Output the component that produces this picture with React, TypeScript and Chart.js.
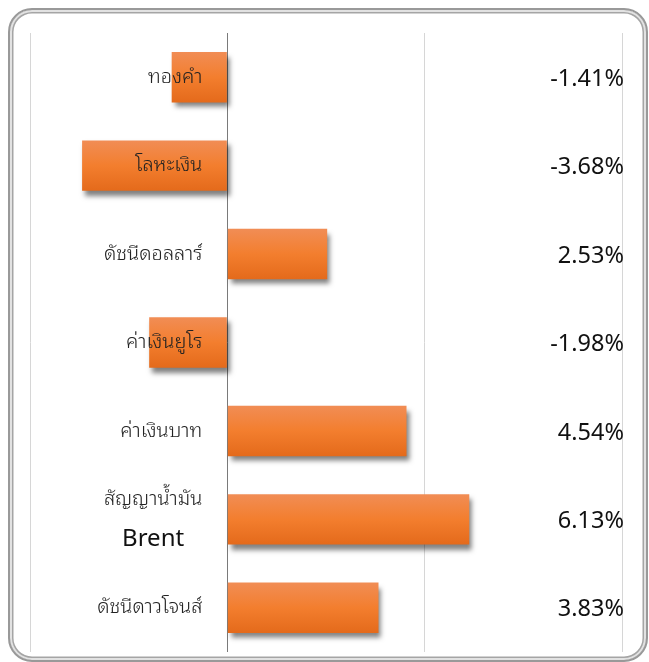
import React, { useEffect, useRef } from "react";
import { Chart, registerables } from "chart.js";

Chart.register(...registerables);

const categories: (string | string[])[] = [
  "ทองคำ",
  "โลหะเงิน",
  "ดัชนีดอลลาร์",
  "ค่าเงินยูโร",
  "ค่าเงินบาท",
  ["สัญญาน้ำมัน", "Brent"],
  "ดัชนีดาวโจนส์",
];
const values = [-1.41, -3.68, 2.53, -1.98, 4.54, 6.13, 3.83];
const valueLabels = ["-1.41%", "-3.68%", "2.53%", "-1.98%", "4.54%", "6.13%", "3.83%"];
const axisMin = -5;
const axisMax = 10;
const axisStep = 5;

const THAI_FONT = '"Noto Sans Thai Looped", "Noto Sans Thai", "Noto Sans", "DejaVu Sans", sans-serif';
const NUM_FONT = '"Noto Sans", "Open Sans", sans-serif';

const labelPlugin = {
  id: "sideLabels",
  beforeDatasetsDraw(chart: any) {
    const ctx = chart.ctx;
    ctx.save();
    ctx.shadowColor = "rgba(0,0,0,0.5)";
    ctx.shadowOffsetX = 3;
    ctx.shadowOffsetY = 5;
    ctx.shadowBlur = 5;
  },
  afterDatasetsDraw(chart: any) {
    const ctx = chart.ctx;
    ctx.restore();
    const y = chart.scales.y;
    const x = chart.scales.x;
    const area = chart.chartArea;
    const rightEdge = x.getPixelForValue(0) - 25;
    ctx.save();
    ctx.textBaseline = "middle";
    categories.forEach((cat, i) => {
      const cy = y.getPixelForValue(i);
      ctx.fillStyle = "#222";
      if (Array.isArray(cat)) {
        const fonts = [`300 20px ${THAI_FONT}`, `24px ${NUM_FONT}`];
        const widths = cat.map((line, j) => {
          ctx.font = fonts[j] || fonts[0];
          return ctx.measureText(line).width;
        });
        const w = Math.max(...widths);
        const center = rightEdge - w / 2;
        const offsets = [-20, 20];
        cat.forEach((line, j) => {
          ctx.font = fonts[j] || fonts[0];
          ctx.fillStyle = j === 0 ? "#222" : "#111";
          ctx.textAlign = "center";
          ctx.fillText(line, center, cy + offsets[j]);
        });
      } else {
        ctx.font = `300 20px ${THAI_FONT}`;
        ctx.textAlign = "right";
        ctx.fillText(cat, rightEdge, cy);
      }
      ctx.fillStyle = "#111";
      ctx.font = `23.5px ${NUM_FONT}`;
      ctx.textAlign = "right";
      ctx.fillText(valueLabels[i], area.right + 2, cy + 2);
    });
    ctx.restore();
  },
};

export default function App() {
  const ref = useRef<HTMLCanvasElement | null>(null);
  useEffect(() => {
    if (!ref.current) return;
    const chart = new Chart(ref.current, {
      type: "bar",
      data: {
        labels: categories as any,
        datasets: [
          {
            data: values,
            barPercentage: 0.57,
            categoryPercentage: 1,
            borderWidth: 0,
            backgroundColor: (c: any) => {
              const ch = c.chart;
              const ys = ch.scales && ch.scales.y;
              const area = ch.chartArea;
              if (!ys || !area) return "#F07C2C";
              const cy = ys.getPixelForValue(c.dataIndex);
              const half = (area.bottom - area.top) / categories.length * 0.57 / 2;
              const g = ch.ctx.createLinearGradient(0, cy - half, 0, cy + half);
              g.addColorStop(0, "#F18D55");
              g.addColorStop(0.5, "#F37E2E");
              g.addColorStop(1, "#E46A1B");
              return g;
            },
          },
        ],
      },
      options: {
        indexAxis: "y",
        animation: false,
        responsive: false,
        maintainAspectRatio: false,
        layout: { padding: { left: 22, right: 26, top: 25, bottom: 10 } },
        plugins: { legend: { display: false }, tooltip: { enabled: false } },
        scales: {
          x: {
            min: axisMin,
            max: axisMax,
            ticks: { display: false, stepSize: axisStep },
            border: { display: false },
            grid: {
              drawTicks: false,
              color: (c: any) => (c.tick && c.tick.value === 0 ? "#7a7a7a" : "#d6d6d6"),
              lineWidth: 1,
            },
          },
          y: { display: false },
        },
      },
      plugins: [labelPlugin],
    });
    return () => chart.destroy();
  }, []);

  return (
    <div
      style={{
        position: "fixed",
        left: 8,
        top: 8,
        width: 640,
        height: 654,
        boxSizing: "border-box",
        border: "2.5px solid #999",
        borderRadius: 24,
        boxShadow: "inset 0 0 0 2px #e2e2e2, inset 0 0 0 3.5px #a5a5a5",
        background: "#fff",
      }}
    >
      <canvas
        ref={ref}
        width={640}
        height={654}
        style={{ position: "absolute", left: -2.5, top: -2.5, width: 640, height: 654 }}
      />
    </div>
  );
}
